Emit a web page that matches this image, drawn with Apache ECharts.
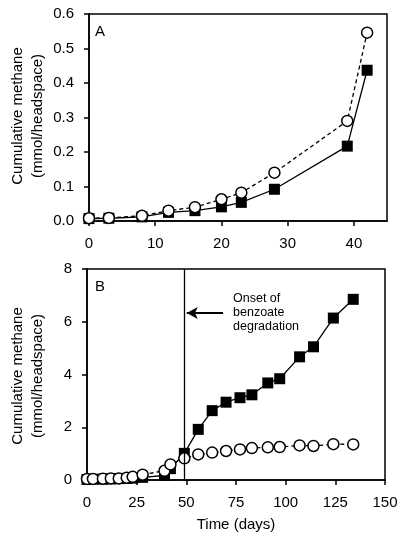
<!DOCTYPE html>
<html>
<head>
<meta charset="utf-8">
<script src="https://cdn.jsdelivr.net/npm/echarts@6/dist/echarts.min.js"></script>
<style>html,body{margin:0;padding:0;background:#fff;}#c{width:407px;height:549px;}</style>
</head>
<body>
<div id="c"></div>
<script>
// Panel A data (days, mmol/headspace)
var daysA = [0, 3, 8, 12, 16, 20, 23, 28, 39, 42];
var squaresA = [0.007, 0.008, 0.012, 0.025, 0.030, 0.041, 0.054, 0.092, 0.217, 0.437];
var circlesA = [0.008, 0.009, 0.015, 0.030, 0.040, 0.063, 0.082, 0.140, 0.290, 0.546];
var ticksAx = [0, 10, 20, 30, 40];

// Panel B data
var daysB = [0, 3, 8, 12, 16, 20, 23, 28, 39, 42, 49, 56, 63, 70, 77, 83, 91, 97, 107, 114, 124, 134];
var squaresB = [0.02, 0.03, 0.03, 0.04, 0.05, 0.06, 0.07, 0.10, 0.17, 0.43, 1.01, 1.92, 2.63, 2.95, 3.12, 3.23, 3.68, 3.84, 4.67, 5.05, 6.14, 6.85];
var circlesB = [0.04, 0.04, 0.05, 0.06, 0.06, 0.09, 0.12, 0.20, 0.35, 0.59, 0.82, 0.97, 1.04, 1.10, 1.16, 1.21, 1.24, 1.25, 1.31, 1.29, 1.36, 1.35];

var onsetDay = 49;
var annotation = 'Onset of\nbenzoate\ndegradation';
var yNameText = 'Cumulative methane\n(mmol/headspace)';
var xNameText = 'Time (days)';

function pairs(xs, ys) { return xs.map(function (x, i) { return [x, ys[i]]; }); }

var FONT = '"Liberation Sans", Arial, Helvetica, sans-serif';
var tickStyle = { show: true, inside: false, length: 5, lineStyle: { color: '#000', width: 1.5 } };
var labelStyle = { color: '#000', fontSize: 15, fontFamily: FONT };

function xAxisCfg(idx, max, interval, name, gap, custom) {
  var tick = Object.assign({}, tickStyle);
  var lab = Object.assign({ margin: 15 }, labelStyle);
  if (custom) { tick.customValues = custom; lab.customValues = custom; }
  return {
    type: 'value', gridIndex: idx, min: 0, max: max, interval: interval,
    axisLine: { show: true, onZero: false, lineStyle: { color: '#000', width: 1.5 } },
    axisTick: tick, splitLine: { show: false },
    axisLabel: lab,
    name: name, nameLocation: 'middle', nameGap: gap,
    nameTextStyle: { color: '#000', fontSize: 15, fontFamily: FONT }
  };
}
function yAxisCfg(idx, max, interval, decimals) {
  return {
    type: 'value', gridIndex: idx, min: 0, max: max, interval: interval,
    axisLine: { show: true, onZero: false, lineStyle: { color: '#000', width: 1.5 } },
    axisTick: tickStyle, splitLine: { show: false },
    axisLabel: Object.assign({ margin: 15, formatter: function (v) { return v.toFixed(decimals); } }, labelStyle)
  };
}
function yName(cx, cy) {
  return {
    type: 'text', x: cx, y: cy, rotation: Math.PI / 2,
    style: { text: yNameText, font: '15px ' + FONT, fill: '#000', align: 'center', verticalAlign: 'middle', textAlign: 'center', textVerticalAlign: 'middle', lineHeight: 20 }
  };
}

var sqSym = { symbol: 'rect', symbolSize: 11, itemStyle: { color: '#000', borderColor: '#000', borderWidth: 0 } };
var ciSym = { symbol: 'circle', symbolSize: 11, itemStyle: { color: '#fff', borderColor: '#000', borderWidth: 1.5 } };

var option = {
  animation: false,
  backgroundColor: '#fff',
  textStyle: { fontFamily: FONT },
  grid: [
    { left: 89, top: 14, width: 298, height: 207, show: true, borderColor: '#000', borderWidth: 1.5, backgroundColor: 'transparent', containLabel: false, outerBoundsMode: 'none' },
    { left: 87, top: 269, width: 298, height: 211, show: true, borderColor: '#000', borderWidth: 1.5, backgroundColor: 'transparent', containLabel: false, outerBoundsMode: 'none' }
  ],
  xAxis: [
    xAxisCfg(0, 45, 10, '', 30, ticksAx),
    xAxisCfg(1, 150, 25, xNameText, 37, null)
  ],
  yAxis: [
    yAxisCfg(0, 0.6, 0.1, 1),
    yAxisCfg(1, 8, 2, 0)
  ],
  graphic: [
    yName(28, 116),
    yName(28, 376),
    { type: 'text', left: 95, top: 24, style: { text: 'A', font: '15px ' + FONT, fill: '#000' } },
    { type: 'text', left: 95, top: 279, style: { text: 'B', font: '15px ' + FONT, fill: '#000' } }
  ],
  series: [
    Object.assign({
      type: 'line', xAxisIndex: 0, yAxisIndex: 0, data: pairs(daysA, squaresA),
      lineStyle: { color: '#000', width: 1.3, type: 'solid' }, z: 3
    }, sqSym),
    Object.assign({
      type: 'line', xAxisIndex: 0, yAxisIndex: 0, data: pairs(daysA, circlesA),
      lineStyle: { color: '#000', width: 1.3, type: [4, 3] }, z: 4
    }, ciSym),
    Object.assign({
      type: 'line', xAxisIndex: 1, yAxisIndex: 1, data: pairs(daysB, squaresB),
      lineStyle: { color: '#000', width: 1.3, type: 'solid' }, z: 3,
      markLine: {
        silent: true, animation: false, symbol: ['none', 'none'],
        label: { show: false },
        lineStyle: { color: '#000', width: 1.3, type: 'solid' },
        data: [[{ coord: [onsetDay, 0] }, { coord: [onsetDay, 8] }]]
      }
    }, sqSym),
    Object.assign({
      type: 'line', xAxisIndex: 1, yAxisIndex: 1, data: pairs(daysB, circlesB),
      lineStyle: { color: '#000', width: 1.3, type: [4, 3] }, z: 4,
      markLine: {
        silent: true, animation: false, symbol: ['none', 'arrow'], symbolSize: [9, 11],
        label: { show: false },
        lineStyle: { color: '#000', width: 2, type: 'solid' },
        data: [[{ coord: [68.5, 6.33] }, { coord: [50.2, 6.33] }]]
      },
      markPoint: {
        silent: true, symbol: 'circle', symbolSize: 0,
        data: [{ coord: [73.5, 6.33], value: annotation }],
        label: { show: true, position: 'right', distance: 0, formatter: annotation, color: '#000', fontSize: 12.5, fontFamily: FONT, lineHeight: 14, align: 'left' }
      }
    }, ciSym)
  ]
};

var chart = echarts.init(document.getElementById('c'), null, { renderer: 'canvas' });
chart.setOption(option);
</script>
</body>
</html>
